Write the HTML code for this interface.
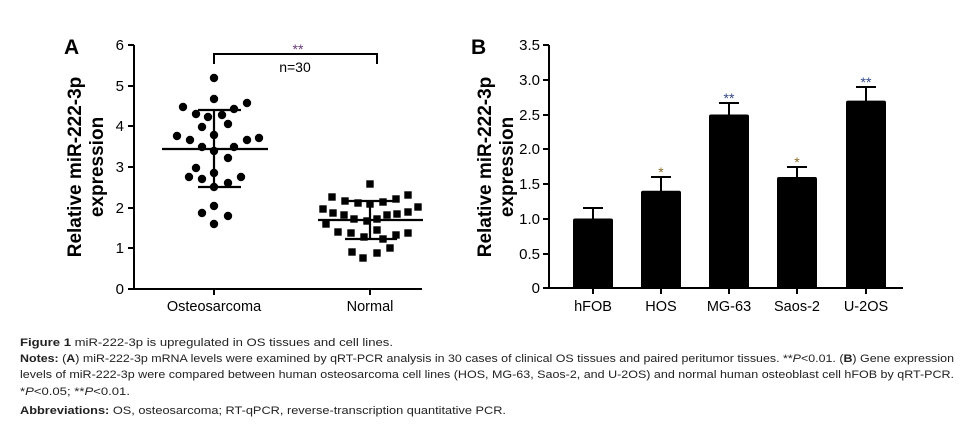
<!DOCTYPE html>
<html><head><meta charset="utf-8"><style>
body{margin:0;background:#fff}
svg{display:block;font-family:"Liberation Sans",Arial,sans-serif}
</style></head><body>
<svg width="972" height="430" viewBox="0 0 972 430" xmlns="http://www.w3.org/2000/svg">
<!-- Panel A -->
<text x="64" y="54" font-size="21" font-weight="bold">A</text>
<text transform="translate(81,167) rotate(-90)" font-size="19" font-weight="bold" text-anchor="middle">Relative miR-222-3p</text>
<text transform="translate(103,167) rotate(-90)" font-size="19" font-weight="bold" text-anchor="middle">expression</text>
<g stroke="#000" stroke-width="2" fill="none">
<path d="M134,45 V289 H422"/>
<path d="M128,45H134M128,86H134M128,126H134M128,167H134M128,208H134M128,248H134M128,289H134"/>
<path d="M214,289v6M370,289v6"/>
<path d="M214,64V54H377V64"/>
</g>
<g font-size="15" text-anchor="end">
<text x="124" y="50">6</text><text x="124" y="91">5</text><text x="124" y="131">4</text><text x="124" y="172">3</text><text x="124" y="213">2</text><text x="124" y="253">1</text><text x="124" y="294">0</text>
</g>
<text x="298" y="54" font-size="14" fill="#6b3a7a" text-anchor="middle">**</text>
<text x="295" y="72" font-size="14" text-anchor="middle">n=30</text>
<text x="214" y="311" font-size="14.5" text-anchor="middle">Osteosarcoma</text>
<text x="370" y="311" font-size="14.5" text-anchor="middle">Normal</text>
<g fill="#000">
<circle cx="214" cy="78" r="4.2"/><circle cx="214" cy="99" r="4.2"/><circle cx="183" cy="107" r="4.2"/><circle cx="234" cy="109" r="4.2"/><circle cx="247" cy="103" r="4.2"/><circle cx="196" cy="114" r="4.2"/><circle cx="208" cy="117" r="4.2"/><circle cx="222" cy="115" r="4.2"/><circle cx="202" cy="127" r="4.2"/><circle cx="228" cy="124" r="4.2"/><circle cx="177" cy="136" r="4.2"/><circle cx="190" cy="140" r="4.2"/><circle cx="214" cy="135" r="4.2"/><circle cx="247" cy="140" r="4.2"/><circle cx="259" cy="138" r="4.2"/><circle cx="202" cy="147" r="4.2"/><circle cx="234" cy="147" r="4.2"/><circle cx="214" cy="151" r="4.2"/><circle cx="228" cy="158" r="4.2"/><circle cx="196" cy="168" r="4.2"/><circle cx="189" cy="177" r="4.2"/><circle cx="202" cy="179" r="4.2"/><circle cx="214" cy="173" r="4.2"/><circle cx="241" cy="177" r="4.2"/><circle cx="228" cy="183" r="4.2"/><circle cx="214" cy="187" r="4.2"/><circle cx="214" cy="206" r="4.2"/><circle cx="202" cy="213" r="4.2"/><circle cx="228" cy="216" r="4.2"/><circle cx="214" cy="224" r="4.2"/>
</g>
<g fill="#000" transform="translate(-3.7,-3.7)">
<rect x="370" y="184" width="7.4" height="7.4"/><rect x="332" y="197" width="7.4" height="7.4"/><rect x="345" y="201" width="7.4" height="7.4"/><rect x="358" y="203" width="7.4" height="7.4"/><rect x="370" y="204" width="7.4" height="7.4"/><rect x="383" y="202" width="7.4" height="7.4"/><rect x="396" y="199" width="7.4" height="7.4"/><rect x="408" y="195" width="7.4" height="7.4"/><rect x="418" y="207" width="7.4" height="7.4"/><rect x="323" y="209" width="7.4" height="7.4"/><rect x="333" y="213" width="7.4" height="7.4"/><rect x="344" y="215" width="7.4" height="7.4"/><rect x="354" y="219" width="7.4" height="7.4"/><rect x="367" y="221" width="7.4" height="7.4"/><rect x="377" y="219" width="7.4" height="7.4"/><rect x="387" y="215" width="7.4" height="7.4"/><rect x="397" y="214" width="7.4" height="7.4"/><rect x="408" y="212" width="7.4" height="7.4"/><rect x="326" y="224" width="7.4" height="7.4"/><rect x="338" y="232" width="7.4" height="7.4"/><rect x="351" y="233" width="7.4" height="7.4"/><rect x="364" y="237" width="7.4" height="7.4"/><rect x="377" y="230" width="7.4" height="7.4"/><rect x="383" y="239" width="7.4" height="7.4"/><rect x="396" y="235" width="7.4" height="7.4"/><rect x="408" y="233" width="7.4" height="7.4"/><rect x="352" y="252" width="7.4" height="7.4"/><rect x="377" y="253" width="7.4" height="7.4"/><rect x="390" y="248" width="7.4" height="7.4"/><rect x="363" y="258" width="7.4" height="7.4"/>
</g>
<g stroke="#000" stroke-width="2.2">
<path d="M162,149H268M198,110H241M198,187H241M214,110V187"/>
<path d="M318,220H423M345,201H397M345,239H397M370,201V239"/>
</g>
<!-- Panel B -->
<text x="471" y="54" font-size="21" font-weight="bold">B</text>
<text transform="translate(491,167) rotate(-90)" font-size="19" font-weight="bold" text-anchor="middle">Relative miR-222-3p</text>
<text transform="translate(513,167) rotate(-90)" font-size="19" font-weight="bold" text-anchor="middle">expression</text>
<g stroke="#000" stroke-width="2" fill="none">
<path d="M549,45V288H903"/>
<path d="M543,45H549M543,80H549M543,115H549M543,149H549M543,184H549M543,219H549M543,254H549M543,288H549"/>
<path d="M593,288v6M661,288v6M729,288v6M797,288v6M866,288v6"/>
<path d="M593,219V208M583,208H603M661,191V177M651,177H671M729,115V103M719,103H739M797,177V167M787,167H807M866,101V87M856,87H876"/>
</g>
<g font-size="15" text-anchor="end">
<text x="540" y="50">3.5</text><text x="540" y="85">3.0</text><text x="540" y="120">2.5</text><text x="540" y="154">2.0</text><text x="540" y="189">1.5</text><text x="540" y="224">1.0</text><text x="540" y="259">0.5</text><text x="540" y="293">0</text>
</g>
<g fill="#000">
<rect x="573" y="218.5" width="40" height="70" rx="2"/>
<rect x="641" y="190.8" width="40" height="98" rx="2"/>
<rect x="709" y="114.5" width="40" height="174" rx="2"/>
<rect x="777" y="177" width="40" height="112" rx="2"/>
<rect x="846" y="100.6" width="40" height="188" rx="2"/>
</g>
<g font-size="14" text-anchor="middle">
<text x="661" y="177" fill="#8a6a2a">*</text>
<text x="729" y="103" fill="#34488a">**</text>
<text x="797" y="167" fill="#8a6a2a">*</text>
<text x="866" y="87" fill="#34488a">**</text>
</g>
<g font-size="14.5" text-anchor="middle">
<text x="593" y="311">hFOB</text><text x="661" y="311">HOS</text><text x="729" y="311">MG-63</text><text x="797" y="311">Saos-2</text><text x="866" y="311">U-2OS</text>
</g>
<!-- Caption -->
<g font-size="11" fill="#222">
<text x="20" y="346" textLength="373" lengthAdjust="spacingAndGlyphs"><tspan font-weight="bold">Figure 1</tspan> miR-222-3p is upregulated in OS tissues and cell lines.</text>
<text x="20" y="362" textLength="934" lengthAdjust="spacingAndGlyphs"><tspan font-weight="bold">Notes:</tspan> (<tspan font-weight="bold">A</tspan>) miR-222-3p mRNA levels were examined by qRT-PCR analysis in 30 cases of clinical OS tissues and paired peritumor tissues. **<tspan font-style="italic">P</tspan>&lt;0.01. (<tspan font-weight="bold">B</tspan>) Gene expression</text>
<text x="20" y="378" textLength="934" lengthAdjust="spacingAndGlyphs">levels of miR-222-3p were compared between human osteosarcoma cell lines (HOS, MG-63, Saos-2, and U-2OS) and normal human osteoblast cell hFOB by qRT-PCR.</text>
<text x="20" y="395" textLength="110" lengthAdjust="spacingAndGlyphs">*<tspan font-style="italic">P</tspan>&lt;0.05; **<tspan font-style="italic">P</tspan>&lt;0.01.</text>
<text x="20" y="414" textLength="486" lengthAdjust="spacingAndGlyphs"><tspan font-weight="bold">Abbreviations:</tspan> OS, osteosarcoma; RT-qPCR, reverse-transcription quantitative PCR.</text>
</g>
</svg>
</body></html>
